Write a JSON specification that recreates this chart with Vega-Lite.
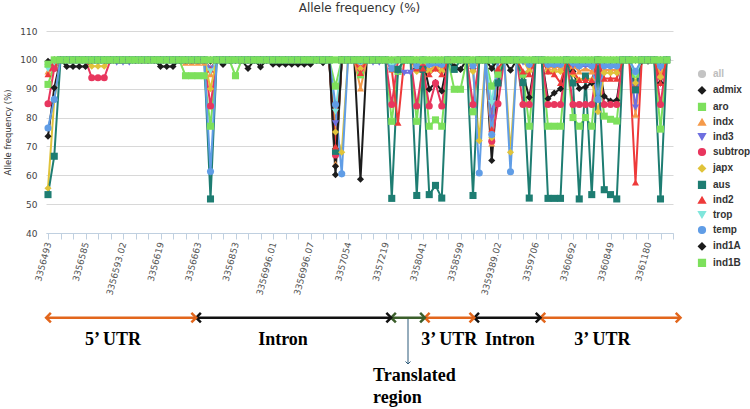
{
"$schema":"https://vega.github.io/schema/vega-lite/v6.json",
"width":627,"height":202,
"padding":{"left":3,"top":2,"right":0,"bottom":0},
"title":{"text":"Allele frequency (%)","font":"DejaVu Sans","fontSize":12,"fontWeight":"normal","color":"#333333","offset":12},
"config":{"view":{"stroke":null},"font":"DejaVu Sans"},
"datasets":{
"freq":[
{"i":0,"admix":73.5,"aro":91.5,"indx":96,"ind3":97.5,"subtrop":84.8,"japx":55.5,"aus":53.3,"ind2":95,"trop":96.8,"temp":76.4,"ind1A":99.5,"ind1B":98.5},
{"i":1,"admix":90.3,"aro":98,"indx":99,"ind3":97.5,"subtrop":97,"japx":86,"aus":66.6,"ind2":99,"trop":99,"temp":86.3,"ind1A":100,"ind1B":100},
{"i":2,"admix":100,"aro":100,"indx":100,"ind3":100,"subtrop":100,"japx":100,"aus":100,"ind2":100,"trop":100,"temp":100,"ind1A":100,"ind1B":100},
{"i":3,"admix":97.7,"aro":100,"indx":100,"ind3":100,"subtrop":100,"japx":100,"aus":100,"ind2":100,"trop":100,"temp":100,"ind1A":100,"ind1B":100},
{"i":4,"admix":97.7,"aro":100,"indx":100,"ind3":100,"subtrop":100,"japx":100,"aus":100,"ind2":100,"trop":100,"temp":100,"ind1A":100,"ind1B":100},
{"i":5,"admix":97.7,"aro":100,"indx":100,"ind3":100,"subtrop":100,"japx":100,"aus":100,"ind2":100,"trop":100,"temp":100,"ind1A":100,"ind1B":100},
{"i":6,"admix":97.7,"aro":100,"indx":100,"ind3":100,"subtrop":100,"japx":100,"aus":100,"ind2":100,"trop":100,"temp":100,"ind1A":100,"ind1B":100},
{"i":7,"admix":100,"aro":100,"indx":100,"ind3":100,"subtrop":93.8,"japx":97.8,"aus":100,"ind2":100,"trop":100,"temp":100,"ind1A":100,"ind1B":100},
{"i":8,"admix":100,"aro":100,"indx":100,"ind3":100,"subtrop":93.8,"japx":97.8,"aus":100,"ind2":100,"trop":100,"temp":100,"ind1A":100,"ind1B":100},
{"i":9,"admix":100,"aro":100,"indx":100,"ind3":100,"subtrop":93.8,"japx":97.8,"aus":100,"ind2":100,"trop":100,"temp":100,"ind1A":100,"ind1B":100},
{"i":10,"admix":100,"aro":100,"indx":100,"ind3":100,"subtrop":100,"japx":100,"aus":100,"ind2":100,"trop":100,"temp":100,"ind1A":100,"ind1B":100},
{"i":11,"admix":100,"aro":100,"indx":100,"ind3":99,"subtrop":100,"japx":100,"aus":100,"ind2":100,"trop":100,"temp":100,"ind1A":100,"ind1B":100},
{"i":12,"admix":100,"aro":100,"indx":100,"ind3":99,"subtrop":100,"japx":100,"aus":100,"ind2":100,"trop":100,"temp":100,"ind1A":100,"ind1B":100},
{"i":13,"admix":100,"aro":100,"indx":100,"ind3":99,"subtrop":100,"japx":100,"aus":100,"ind2":100,"trop":100,"temp":100,"ind1A":100,"ind1B":100},
{"i":14,"admix":100,"aro":100,"indx":100,"ind3":100,"subtrop":100,"japx":100,"aus":100,"ind2":100,"trop":100,"temp":100,"ind1A":100,"ind1B":100},
{"i":15,"admix":100,"aro":100,"indx":100,"ind3":100,"subtrop":100,"japx":100,"aus":100,"ind2":100,"trop":100,"temp":100,"ind1A":100,"ind1B":100},
{"i":16,"admix":100,"aro":100,"indx":100,"ind3":100,"subtrop":100,"japx":100,"aus":100,"ind2":100,"trop":100,"temp":100,"ind1A":100,"ind1B":100},
{"i":17,"admix":100,"aro":100,"indx":100,"ind3":100,"subtrop":100,"japx":100,"aus":100,"ind2":100,"trop":100,"temp":100,"ind1A":100,"ind1B":100},
{"i":18,"admix":97.7,"aro":100,"indx":100,"ind3":100,"subtrop":100,"japx":100,"aus":100,"ind2":100,"trop":100,"temp":100,"ind1A":100,"ind1B":100},
{"i":19,"admix":97.7,"aro":100,"indx":100,"ind3":100,"subtrop":100,"japx":100,"aus":100,"ind2":100,"trop":100,"temp":100,"ind1A":100,"ind1B":100},
{"i":20,"admix":97.7,"aro":100,"indx":100,"ind3":100,"subtrop":100,"japx":100,"aus":100,"ind2":100,"trop":100,"temp":100,"ind1A":100,"ind1B":100},
{"i":21,"admix":100,"aro":100,"indx":100,"ind3":100,"subtrop":100,"japx":100,"aus":100,"ind2":100,"trop":100,"temp":100,"ind1A":100,"ind1B":100},
{"i":22,"admix":100,"aro":94.5,"indx":99,"ind3":100,"subtrop":100,"japx":100,"aus":100,"ind2":100,"trop":100,"temp":100,"ind1A":100,"ind1B":100},
{"i":23,"admix":100,"aro":94.5,"indx":99,"ind3":100,"subtrop":100,"japx":100,"aus":100,"ind2":100,"trop":100,"temp":100,"ind1A":100,"ind1B":100},
{"i":24,"admix":100,"aro":94.5,"indx":99,"ind3":100,"subtrop":100,"japx":100,"aus":100,"ind2":100,"trop":100,"temp":100,"ind1A":100,"ind1B":100},
{"i":25,"admix":100,"aro":94.5,"indx":99,"ind3":100,"subtrop":100,"japx":100,"aus":100,"ind2":100,"trop":100,"temp":100,"ind1A":100,"ind1B":100},
{"i":26,"admix":99.5,"aro":77,"indx":95,"ind3":97,"subtrop":84,"japx":90,"aus":51.8,"ind2":96.7,"trop":96,"temp":61.3,"ind1A":100,"ind1B":100},
{"i":27,"admix":100,"aro":100,"indx":100,"ind3":100,"subtrop":100,"japx":100,"aus":100,"ind2":100,"trop":100,"temp":100,"ind1A":100,"ind1B":100},
{"i":28,"admix":98.4,"aro":100,"indx":100,"ind3":100,"subtrop":100,"japx":100,"aus":100,"ind2":100,"trop":100,"temp":100,"ind1A":100,"ind1B":100},
{"i":29,"admix":100,"aro":100,"indx":100,"ind3":100,"subtrop":100,"japx":100,"aus":100,"ind2":100,"trop":100,"temp":100,"ind1A":100,"ind1B":100},
{"i":30,"admix":100,"aro":94.5,"indx":100,"ind3":100,"subtrop":100,"japx":100,"aus":100,"ind2":100,"trop":100,"temp":100,"ind1A":100,"ind1B":100},
{"i":31,"admix":100,"aro":100,"indx":100,"ind3":100,"subtrop":100,"japx":100,"aus":100,"ind2":100,"trop":100,"temp":100,"ind1A":100,"ind1B":100},
{"i":32,"admix":97,"aro":100,"indx":100,"ind3":100,"subtrop":100,"japx":100,"aus":100,"ind2":100,"trop":100,"temp":100,"ind1A":100,"ind1B":100},
{"i":33,"admix":100,"aro":100,"indx":100,"ind3":100,"subtrop":100,"japx":100,"aus":100,"ind2":100,"trop":100,"temp":100,"ind1A":100,"ind1B":100},
{"i":34,"admix":97.5,"aro":100,"indx":100,"ind3":100,"subtrop":100,"japx":100,"aus":100,"ind2":100,"trop":100,"temp":100,"ind1A":100,"ind1B":100},
{"i":35,"admix":100,"aro":100,"indx":100,"ind3":100,"subtrop":100,"japx":100,"aus":100,"ind2":100,"trop":100,"temp":100,"ind1A":100,"ind1B":100},
{"i":36,"admix":98.5,"aro":100,"indx":100,"ind3":100,"subtrop":100,"japx":100,"aus":100,"ind2":100,"trop":100,"temp":100,"ind1A":100,"ind1B":100},
{"i":37,"admix":98.5,"aro":100,"indx":100,"ind3":100,"subtrop":100,"japx":100,"aus":100,"ind2":100,"trop":100,"temp":100,"ind1A":100,"ind1B":100},
{"i":38,"admix":98.5,"aro":100,"indx":100,"ind3":100,"subtrop":100,"japx":100,"aus":100,"ind2":100,"trop":100,"temp":100,"ind1A":100,"ind1B":100},
{"i":39,"admix":98.5,"aro":100,"indx":100,"ind3":100,"subtrop":100,"japx":100,"aus":100,"ind2":100,"trop":100,"temp":100,"ind1A":100,"ind1B":100},
{"i":40,"admix":98.5,"aro":100,"indx":100,"ind3":100,"subtrop":100,"japx":100,"aus":100,"ind2":100,"trop":100,"temp":100,"ind1A":100,"ind1B":100},
{"i":41,"admix":98.5,"aro":100,"indx":100,"ind3":100,"subtrop":100,"japx":100,"aus":100,"ind2":100,"trop":100,"temp":100,"ind1A":100,"ind1B":100},
{"i":42,"admix":98.5,"aro":100,"indx":100,"ind3":100,"subtrop":100,"japx":100,"aus":100,"ind2":100,"trop":100,"temp":100,"ind1A":100,"ind1B":100},
{"i":43,"admix":100,"aro":100,"indx":100,"ind3":100,"subtrop":100,"japx":100,"aus":100,"ind2":100,"trop":100,"temp":100,"ind1A":100,"ind1B":100},
{"i":44,"admix":99,"aro":100,"indx":100,"ind3":100,"subtrop":100,"japx":100,"aus":100,"ind2":100,"trop":100,"temp":100,"ind1A":100,"ind1B":100},
{"i":45,"admix":100,"aro":100,"indx":100,"ind3":100,"subtrop":100,"japx":100,"aus":100,"ind2":100,"trop":100,"temp":100,"ind1A":100,"ind1B":100},
{"i":46,"admix":60.2,"aro":90.9,"indx":64,"ind3":78,"subtrop":67,"japx":75,"aus":68.3,"ind2":70,"trop":82,"temp":84.5,"ind1A":63.1,"ind1B":100},
{"i":47,"admix":100,"aro":100,"indx":100,"ind3":100,"subtrop":100,"japx":68,"aus":100,"ind2":100,"trop":100,"temp":60.5,"ind1A":100,"ind1B":100},
{"i":48,"admix":100,"aro":100,"indx":100,"ind3":100,"subtrop":100,"japx":100,"aus":100,"ind2":100,"trop":100,"temp":100,"ind1A":100,"ind1B":100},
{"i":49,"admix":100,"aro":100,"indx":100,"ind3":100,"subtrop":100,"japx":100,"aus":100,"ind2":100,"trop":100,"temp":100,"ind1A":100,"ind1B":100},
{"i":50,"admix":58.6,"aro":94.8,"indx":90.1,"ind3":100,"subtrop":97,"japx":97,"aus":100,"ind2":95.5,"trop":100,"temp":99.5,"ind1A":100,"ind1B":100},
{"i":51,"admix":100,"aro":100,"indx":100,"ind3":100,"subtrop":100,"japx":100,"aus":100,"ind2":100,"trop":100,"temp":100,"ind1A":100,"ind1B":100},
{"i":52,"admix":100,"aro":100,"indx":100,"ind3":99,"subtrop":100,"japx":100,"aus":100,"ind2":100,"trop":100,"temp":100,"ind1A":100,"ind1B":100},
{"i":53,"admix":100,"aro":100,"indx":100,"ind3":99,"subtrop":100,"japx":100,"aus":100,"ind2":100,"trop":100,"temp":100,"ind1A":100,"ind1B":100},
{"i":54,"admix":100,"aro":100,"indx":100,"ind3":100,"subtrop":100,"japx":100,"aus":100,"ind2":100,"trop":100,"temp":100,"ind1A":100,"ind1B":100},
{"i":55,"admix":97,"aro":78.7,"indx":97,"ind3":97,"subtrop":84.5,"japx":96.5,"aus":52,"ind2":96.7,"trop":98,"temp":97,"ind1A":100,"ind1B":100},
{"i":56,"admix":100,"aro":96,"indx":100,"ind3":96,"subtrop":100,"japx":100,"aus":96.7,"ind2":78.2,"trop":100,"temp":100,"ind1A":100,"ind1B":100},
{"i":57,"admix":100,"aro":100,"indx":100,"ind3":95.5,"subtrop":100,"japx":100,"aus":100,"ind2":100,"trop":100,"temp":100,"ind1A":100,"ind1B":100},
{"i":58,"admix":100,"aro":100,"indx":100,"ind3":95.5,"subtrop":100,"japx":100,"aus":100,"ind2":100,"trop":100,"temp":100,"ind1A":100,"ind1B":100},
{"i":59,"admix":97,"aro":78.7,"indx":97,"ind3":98,"subtrop":84,"japx":96,"aus":53,"ind2":97,"trop":99,"temp":98,"ind1A":100,"ind1B":100},
{"i":60,"admix":100,"aro":100,"indx":100,"ind3":100,"subtrop":97.3,"japx":100,"aus":96.7,"ind2":97,"trop":100,"temp":100,"ind1A":100,"ind1B":100},
{"i":61,"admix":89.8,"aro":77,"indx":96.5,"ind3":98,"subtrop":84,"japx":96,"aus":53.3,"ind2":95,"trop":99,"temp":98.5,"ind1A":100,"ind1B":100},
{"i":62,"admix":92.1,"aro":79.2,"indx":98,"ind3":98,"subtrop":92,"japx":97,"aus":56.5,"ind2":97,"trop":100,"temp":99,"ind1A":100,"ind1B":100},
{"i":63,"admix":89.2,"aro":77,"indx":97,"ind3":98,"subtrop":84,"japx":96,"aus":52.1,"ind2":95,"trop":99,"temp":98.5,"ind1A":100,"ind1B":100},
{"i":64,"admix":100,"aro":100,"indx":100,"ind3":100,"subtrop":100,"japx":100,"aus":100,"ind2":100,"trop":100,"temp":100,"ind1A":100,"ind1B":100},
{"i":65,"admix":97.8,"aro":89.8,"indx":100,"ind3":100,"subtrop":100,"japx":100,"aus":96.7,"ind2":100,"trop":100,"temp":100,"ind1A":100,"ind1B":100},
{"i":66,"admix":96.7,"aro":89.8,"indx":100,"ind3":100,"subtrop":100,"japx":100,"aus":100,"ind2":100,"trop":100,"temp":100,"ind1A":100,"ind1B":100},
{"i":67,"admix":100,"aro":100,"indx":100,"ind3":100,"subtrop":100,"japx":100,"aus":100,"ind2":100,"trop":100,"temp":100,"ind1A":100,"ind1B":100},
{"i":68,"admix":97,"aro":82,"indx":97,"ind3":98,"subtrop":84.5,"japx":96,"aus":53,"ind2":98,"trop":99,"temp":98,"ind1A":100,"ind1B":100},
{"i":69,"admix":100,"aro":100,"indx":100,"ind3":100,"subtrop":100,"japx":72,"aus":100,"ind2":100,"trop":100,"temp":60.8,"ind1A":100,"ind1B":100},
{"i":70,"admix":100,"aro":100,"indx":100,"ind3":100,"subtrop":100,"japx":100,"aus":100,"ind2":100,"trop":100,"temp":100,"ind1A":100,"ind1B":100},
{"i":71,"admix":65.1,"aro":90.9,"indx":71,"ind3":80,"subtrop":71.8,"japx":73,"aus":100,"ind2":76,"trop":85,"temp":74.1,"ind1A":97,"ind1B":100},
{"i":72,"admix":92,"aro":95,"indx":100,"ind3":99,"subtrop":84.8,"japx":100,"aus":92,"ind2":97,"trop":100,"temp":100,"ind1A":100,"ind1B":100},
{"i":73,"admix":100,"aro":100,"indx":100,"ind3":100,"subtrop":100,"japx":100,"aus":100,"ind2":100,"trop":100,"temp":100,"ind1A":100,"ind1B":100},
{"i":74,"admix":96.4,"aro":100,"indx":100,"ind3":100,"subtrop":100,"japx":68,"aus":100,"ind2":100,"trop":100,"temp":61.2,"ind1A":100,"ind1B":100},
{"i":75,"admix":100,"aro":100,"indx":100,"ind3":100,"subtrop":100,"japx":100,"aus":100,"ind2":100,"trop":100,"temp":100,"ind1A":100,"ind1B":100},
{"i":76,"admix":95,"aro":95,"indx":100,"ind3":99,"subtrop":84.5,"japx":100,"aus":92.1,"ind2":96,"trop":100,"temp":100,"ind1A":100,"ind1B":100},
{"i":77,"admix":87,"aro":77,"indx":97,"ind3":98,"subtrop":84.5,"japx":96,"aus":52.1,"ind2":95,"trop":99,"temp":98.5,"ind1A":100,"ind1B":100},
{"i":78,"admix":100,"aro":100,"indx":100,"ind3":100,"subtrop":100,"japx":100,"aus":100,"ind2":100,"trop":100,"temp":100,"ind1A":100,"ind1B":100},
{"i":79,"admix":100,"aro":100,"indx":100,"ind3":100,"subtrop":100,"japx":100,"aus":100,"ind2":100,"trop":100,"temp":100,"ind1A":100,"ind1B":100},
{"i":80,"admix":86.5,"aro":77,"indx":97.5,"ind3":98,"subtrop":84.5,"japx":96,"aus":52,"ind2":96,"trop":99,"temp":98.5,"ind1A":100,"ind1B":100},
{"i":81,"admix":88.5,"aro":77,"indx":97.5,"ind3":98,"subtrop":84.5,"japx":96,"aus":52,"ind2":95,"trop":99,"temp":98.5,"ind1A":100,"ind1B":100},
{"i":82,"admix":90,"aro":77,"indx":97.5,"ind3":98,"subtrop":84.5,"japx":96,"aus":52,"ind2":92,"trop":99,"temp":98.5,"ind1A":100,"ind1B":100},
{"i":83,"admix":100,"aro":100,"indx":100,"ind3":100,"subtrop":100,"japx":100,"aus":100,"ind2":100,"trop":100,"temp":100,"ind1A":100,"ind1B":100},
{"i":84,"admix":96,"aro":80,"indx":98,"ind3":98,"subtrop":84.5,"japx":95,"aus":92,"ind2":96,"trop":100,"temp":99,"ind1A":100,"ind1B":100},
{"i":85,"admix":90.1,"aro":77,"indx":96,"ind3":97.5,"subtrop":84.5,"japx":93,"aus":51.8,"ind2":93,"trop":99,"temp":98,"ind1A":100,"ind1B":100},
{"i":86,"admix":90.6,"aro":80,"indx":97,"ind3":98,"subtrop":84.5,"japx":94,"aus":94.4,"ind2":93,"trop":100,"temp":99,"ind1A":100,"ind1B":100},
{"i":87,"admix":92,"aro":77,"indx":96,"ind3":97.5,"subtrop":84.5,"japx":93,"aus":53.3,"ind2":93,"trop":99,"temp":98,"ind1A":100,"ind1B":100},
{"i":88,"admix":100,"aro":100,"indx":100,"ind3":99,"subtrop":100,"japx":82,"aus":100,"ind2":100,"trop":100,"temp":86.3,"ind1A":100,"ind1B":100},
{"i":89,"admix":87.4,"aro":80.5,"indx":96.5,"ind3":97.5,"subtrop":84.5,"japx":95.5,"aus":55,"ind2":93.5,"trop":99,"temp":98,"ind1A":100,"ind1B":100},
{"i":90,"admix":85.7,"aro":79.4,"indx":96.5,"ind3":97.5,"subtrop":84.5,"japx":95.5,"aus":53.3,"ind2":93.5,"trop":99,"temp":98,"ind1A":100,"ind1B":100},
{"i":91,"admix":86,"aro":78.8,"indx":96.5,"ind3":97.5,"subtrop":84.5,"japx":95.5,"aus":51.8,"ind2":93.5,"trop":99,"temp":98,"ind1A":100,"ind1B":100},
{"i":92,"admix":100,"aro":100,"indx":100,"ind3":100,"subtrop":100,"japx":100,"aus":100,"ind2":100,"trop":100,"temp":100,"ind1A":100,"ind1B":100},
{"i":93,"admix":100,"aro":100,"indx":100,"ind3":100,"subtrop":100,"japx":100,"aus":100,"ind2":100,"trop":100,"temp":100,"ind1A":100,"ind1B":100},
{"i":94,"admix":100,"aro":95,"indx":81,"ind3":83.5,"subtrop":90,"japx":92,"aus":89.6,"ind2":57.5,"trop":95,"temp":96,"ind1A":100,"ind1B":100},
{"i":95,"admix":99.5,"aro":100,"indx":100,"ind3":100,"subtrop":100,"japx":100,"aus":100,"ind2":100,"trop":100,"temp":100,"ind1A":100,"ind1B":100},
{"i":96,"admix":99.5,"aro":100,"indx":100,"ind3":100,"subtrop":100,"japx":100,"aus":100,"ind2":100,"trop":100,"temp":100,"ind1A":100,"ind1B":100},
{"i":97,"admix":100,"aro":100,"indx":100,"ind3":100,"subtrop":100,"japx":100,"aus":100,"ind2":100,"trop":100,"temp":100,"ind1A":100,"ind1B":100},
{"i":98,"admix":92,"aro":76,"indx":95,"ind3":97,"subtrop":84.5,"japx":94,"aus":51.8,"ind2":92,"trop":99,"temp":98,"ind1A":100,"ind1B":100},
{"i":99,"admix":100,"aro":100,"indx":100,"ind3":100,"subtrop":100,"japx":100,"aus":100,"ind2":100,"trop":100,"temp":100,"ind1A":100,"ind1B":100}
],
"segs":[
{"i":-0.3,"i2":23.7,"value":10.65,"kind":"utr"},
{"i":23.7,"i2":54.9,"value":10.65,"kind":"intron"},
{"i":54.9,"i2":60.3,"value":10.65,"kind":"cds"},
{"i":60.3,"i2":68.2,"value":10.65,"kind":"utr"},
{"i":68.2,"i2":78.8,"value":10.65,"kind":"intron"},
{"i":78.8,"i2":101.2,"value":10.65,"kind":"utr"}
],
"heads":[
{"i":-0.3,"value":10.65,"kind":"utr","dir":"L"},{"i":23.7,"value":10.65,"kind":"utr","dir":"R"},
{"i":23.7,"value":10.65,"kind":"intron","dir":"L"},{"i":54.9,"value":10.65,"kind":"intron","dir":"R"},
{"i":54.9,"value":10.65,"kind":"cds","dir":"L"},{"i":60.3,"value":10.65,"kind":"cds","dir":"R"},
{"i":60.3,"value":10.65,"kind":"utr","dir":"L"},{"i":68.2,"value":10.65,"kind":"utr","dir":"R"},
{"i":68.2,"value":10.65,"kind":"intron","dir":"L"},{"i":78.8,"value":10.65,"kind":"intron","dir":"R"},
{"i":78.8,"value":10.65,"kind":"utr","dir":"L"},{"i":101.2,"value":10.65,"kind":"utr","dir":"R"}
],
"ptr":[{"i":57.6,"value":10.2,"value2":-5.4,"kind":"ptr"}],
"ptrhead":[{"i":57.6,"value":-5.4,"kind":"ptr"}],
"labels":[
{"i":10.4,"value":2.9,"text":"5’ UTR"},
{"i":37.6,"value":2.9,"text":"Intron"},
{"i":64.2,"value":2.9,"text":"3’ UTR"},
{"i":73.9,"value":2.9,"text":"Intron"},
{"i":88.7,"value":2.9,"text":"3’ UTR"}
],
"label2":[{"i":52,"value":-6.4,"text":["Translated","region"]}]
},
"encoding":{
"x":{"field":"i","type":"quantitative","scale":{"domain":[-0.32,100],"nice":false,"zero":false},
"axis":{"values":[0,2,4,6,8,10,12,14,16,18,20,22,24,26,28,30,32,34,36,38,40,42,44,46,48,50,52,54,56,58,60,62,64,66,68,70,72,74,76,78,80,82,84,86,88,90,92,94,96,98,100],
"labelExpr":"datum.value % 6 == 0 ? ['3356493','3356585','3356593.02','3356619','3356663','3356853','3356996.01','3356996.07','3357054','3357219','3358041','3358599','3359389.02','3359706','3360692','3360849','3361180'][datum.value / 6] : ''",
"labelAngle":-75,"labelFontSize":9,"labelFont":"DejaVu Sans","labelColor":"#555555","labelPadding":3,"labelOverlap":false,"labelFlush":false,"labelBound":false,
"tickColor":"#C0D0E0","tickSize":6,"domainColor":"#C0D0E0","grid":false,"title":null}},
"y":{"field":"value","type":"quantitative","scale":{"domain":[40,110],"nice":false,"zero":false},
"axis":{"values":[40,50,60,70,80,90,100,110],"grid":true,"gridColor":"#D8D8D8","domain":false,"ticks":false,"labelPadding":9,"labelFontSize":9,"labelColor":"#444444",
"title":"Allele frequency (%)","titleFontSize":8.5,"titleFontWeight":"normal","titleColor":"#333333","titlePadding":7}}
},
"layer":[
{"data":{"name":"freq"},
"transform":[{"fold":["admix","aro","indx","ind3","subtrop","japx","aus","ind2","trop","temp","ind1A","ind1B"],"as":["series","value"]}],
"mark":{"type":"line","strokeWidth":2},
"encoding":{"color":{"field":"series","type":"nominal",
"scale":{"domain":["all","admix","aro","indx","ind3","subtrop","japx","aus","ind2","trop","temp","ind1A","ind1B"],
"range":["#c4c4c4","#1c1c1c","#7de05c","#f59a4a","#6e6fe0","#e8365e","#e0c33a","#1e7d72","#ee3a3a","#80e6dc","#609de6","#1c1c1c","#7de05c"]},
"legend":{"orient":"none","legendX":651,"legendY":38,"title":null,"labelFont":"Liberation Sans","labelFontWeight":"bold","labelFontSize":10,
"labelColor":{"expr":"datum.value == 'all' ? '#bdbdbd' : '#333333'"},"symbolSize":45,"rowPadding":2.4,"labelOffset":6,"symbolOpacity":1}}}},
{"data":{"name":"freq"},
"transform":[{"fold":["admix","aro","indx","ind3","subtrop","japx","aus","ind2","trop","temp","ind1A","ind1B"],"as":["series","value"]}],
"mark":{"type":"point","filled":true,"size":50,"opacity":1},
"encoding":{"color":{"field":"series","type":"nominal",
"legend":{"orient":"none","legendX":651,"legendY":38,"title":null,"labelFont":"Liberation Sans","labelFontWeight":"bold","labelFontSize":10,
"labelColor":{"expr":"datum.value == 'all' ? '#bdbdbd' : '#333333'"},"symbolSize":45,"rowPadding":2.4,"labelOffset":6,"symbolOpacity":1}},
"shape":{"field":"series","type":"nominal",
"scale":{"domain":["all","admix","aro","indx","ind3","subtrop","japx","aus","ind2","trop","temp","ind1A","ind1B"],
"range":["circle","diamond","square","triangle-up","triangle-down","circle","diamond","square","triangle-up","triangle-down","circle","diamond","square"]},
"legend":{"orient":"none","legendX":651,"legendY":38,"title":null,"labelFont":"Liberation Sans","labelFontWeight":"bold","labelFontSize":10,
"labelColor":{"expr":"datum.value == 'all' ? '#bdbdbd' : '#333333'"},"symbolSize":45,"rowPadding":2.4,"labelOffset":6,"symbolOpacity":1}}}},
{"data":{"name":"segs"},
"mark":{"type":"rule","strokeWidth":2.5},
"encoding":{"x2":{"field":"i2"},"stroke":{"field":"kind","type":"nominal","scale":{"domain":["utr","intron","cds","ptr"],"range":["#E2661C","#111111","#3B5E2B","#2D5B7A"]},"legend":null}}},
{"data":{"name":"heads"},"transform":[{"filter":"datum.dir == 'L'"}],
"mark":{"type":"point","shape":"M1,-1L0,0L1,1","filled":false,"strokeWidth":2.5,"size":90,"opacity":1},
"encoding":{"stroke":{"field":"kind","type":"nominal","legend":null}}},
{"data":{"name":"heads"},"transform":[{"filter":"datum.dir == 'R'"}],
"mark":{"type":"point","shape":"M-1,-1L0,0L-1,1","filled":false,"strokeWidth":2.5,"size":90,"opacity":1},
"encoding":{"stroke":{"field":"kind","type":"nominal","legend":null}}},
{"data":{"name":"ptr"},
"mark":{"type":"rule","strokeWidth":1},
"encoding":{"y2":{"field":"value2"},"stroke":{"field":"kind","type":"nominal","legend":null}}},
{"data":{"name":"ptrhead"},
"mark":{"type":"point","shape":"M-1,-1L0,0L1,-1","filled":false,"strokeWidth":1,"size":25,"opacity":1},
"encoding":{"stroke":{"field":"kind","type":"nominal","legend":null}}},
{"data":{"name":"labels"},
"mark":{"type":"text","font":"Liberation Serif","fontWeight":"bold","fontSize":18,"align":"center","baseline":"middle","color":"#000000"},
"encoding":{"text":{"field":"text"}}},
{"data":{"name":"label2"},
"mark":{"type":"text","font":"Liberation Serif","fontWeight":"bold","fontSize":18,"align":"left","baseline":"top","lineHeight":22,"color":"#000000"},
"encoding":{"text":{"field":"text"}}}
]
}
